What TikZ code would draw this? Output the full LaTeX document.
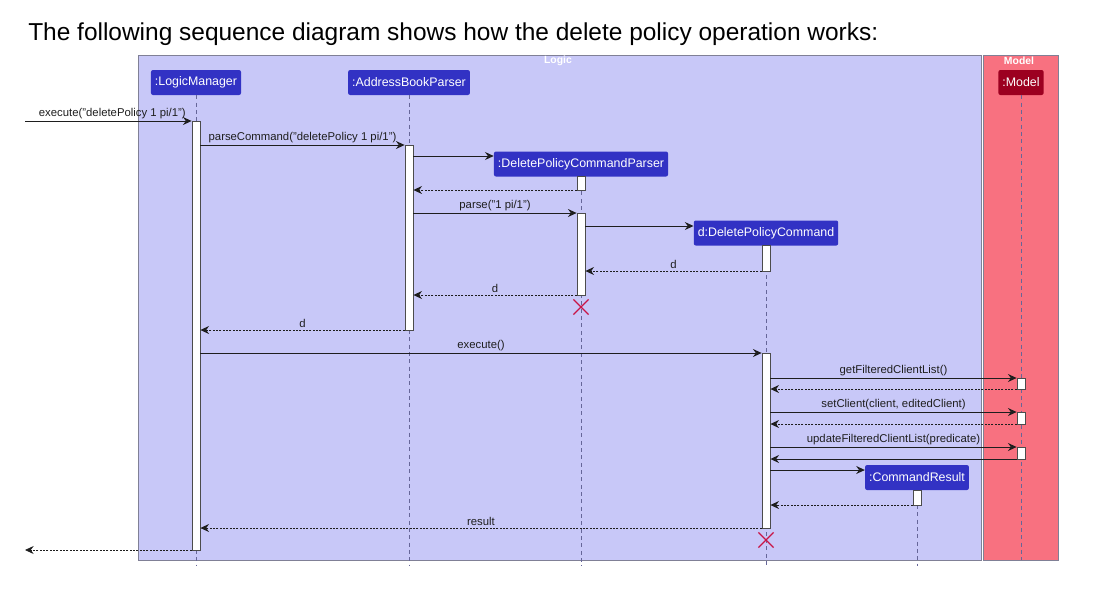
\documentclass[tikz,border=0pt]{standalone}
\usepackage{fontspec}
\setmainfont{Liberation Sans}
\usetikzlibrary{arrows.meta,shapes.misc}
\definecolor{logicbg}{RGB}{200,200,248}
\definecolor{modelbg}{RGB}{248,113,128}
\definecolor{pblue}{RGB}{50,50,196}
\definecolor{pred}{RGB}{156,0,32}
\definecolor{frame}{RGB}{128,128,150}
\definecolor{xred}{RGB}{200,20,70}
\definecolor{ink}{RGB}{30,30,30}
\tikzset{
  part/.style={fill=#1, rounded corners=1.5pt, text=white, font=\fontsize{9.3}{11}\selectfont,
    minimum height=18.75pt, inner xsep=3pt, inner ysep=0pt},
  actbar/.style={draw=gray!60!black, fill=white, line width=0.6pt, minimum width=6pt, inner sep=0pt},
  life/.style={draw=gray!80!blue, dashed, dash pattern=on 3pt off 2.5pt, line width=0.6pt},
  msg/.style={draw=ink, line width=0.7pt, -{Stealth[length=6.5pt,width=6pt,inset=2.2pt]}},
  ret/.style={msg, dash pattern=on 1.5pt off 1pt, line width=0.6pt},
  lbl/.style={above, inner sep=1.5pt, font=\fontsize{8.5}{10}\selectfont, text=ink},
  grp/.style={font=\bfseries\fontsize{7.8}{9}\selectfont, text=white, inner sep=0pt},
  killx/.style={draw=xred, cross out, line width=0.9pt, minimum size=10.5pt, inner sep=0pt},
}
\begin{document}
\begin{tikzpicture}[x=0.75pt,y=-0.75pt]
\useasboundingbox (0,0) rectangle (1096,594);
% title
\node[anchor=base west, inner sep=0pt, font=\fontsize{18.35}{21}\selectfont] (title) at (28,40)
  {The following sequence diagram shows how the delete policy operation works:};
% group boxes
\draw[frame, fill=logicbg, line width=0.6pt] (138,55) rectangle (981,560);
\draw[frame, fill=modelbg, line width=0.6pt] (983,55) rectangle (1058,560);
\node[grp] (glogic) at (558,61) {Logic};
\node[grp] (gmodel) at (1019,61) {Model};
% participants
\node[part=pblue] (lm) at (196,82.5) {:LogicManager};
\node[part=pblue] (abp) at (409,82.5) {:AddressBookParser};
\node[part=pblue] (dpcp) at (581,164) {:DeletePolicyCommandParser};
\node[part=pblue] (dpc) at (766,233) {d:DeletePolicyCommand};
\node[part=pblue] (cr) at (917,477.5) {:CommandResult};
\node[part=pred] (mdl) at (1021,82.5) {:Model};
% lifeline ends
\coordinate (lmE) at (196,566);
\coordinate (abpE) at (409,566);
\coordinate (dpcpE) at (581,566);
\coordinate (dpcE) at (766,566);
\coordinate (crE) at (917,566);
\coordinate (mdlE) at (1021,560);
\draw[life] (lm.south) -- (lmE);
\draw[life] (abp.south) -- (abpE);
\draw[life] (dpcp.south) -- (dpcpE);
\draw[life] (dpc.south) -- (dpcE);
\draw[life] (cr.south) -- (crE);
\draw[life] (mdl.south) -- (mdlE);
% activation bars
\node[actbar, minimum height=321.75pt] (lmA) at (196,335.5) {};
\node[actbar, minimum height=138.75pt] (abpA) at (409,237.5) {};
\node[actbar, minimum height=10.5pt] (dpcpA1) at (581,183) {};
\node[actbar, minimum height=61.5pt] (dpcpA2) at (581,254) {};
\node[actbar, minimum height=19.5pt] (dpcA1) at (766,258) {};
\node[actbar, minimum height=131.25pt] (dpcA2) at (766,440.5) {};
\node[actbar, minimum height=8.25pt] (mA1) at (1021,383.5) {};
\node[actbar, minimum height=9pt] (mA2) at (1021,418) {};
\node[actbar, minimum height=9pt] (mA3) at (1021,453) {};
\node[actbar, minimum height=11.25pt] (crA) at (917,497.5) {};
% message rows
\coordinate (y1) at (0,121);
\coordinate (y2) at (0,145);
\coordinate (y3) at (0,156);
\coordinate (y4) at (0,190);
\coordinate (y5) at (0,213);
\coordinate (y6) at (0,226);
\coordinate (y7) at (0,271);
\coordinate (y8) at (0,295);
\coordinate (y9) at (0,330);
\coordinate (y10) at (0,353);
\coordinate (y11) at (0,378);
\coordinate (y12) at (0,389);
\coordinate (y13) at (0,412);
\coordinate (y14) at (0,424);
\coordinate (y15) at (0,447);
\coordinate (y16) at (0,459);
\coordinate (y17) at (0,470);
\coordinate (y18) at (0,505);
\coordinate (y19) at (0,528);
\coordinate (y20) at (0,550);
\coordinate (inS) at (25,121);
\coordinate (outE) at (25,550);
% messages
\draw[msg] (inS) -- node[lbl, xshift=3pt]{execute("deletePolicy 1 pi/1")} (lmA.west |- y1);
\draw[msg] (lmA.east |- y2) -- node[lbl]{parseCommand("deletePolicy 1 pi/1")} (abpA.west |- y2);
\draw[msg] (abpA.east |- y3) -- (dpcp.west |- y3);
\draw[ret] (dpcpA1.west |- y4) -- (abpA.east |- y4);
\draw[msg] (abpA.east |- y5) -- node[lbl]{parse("1 pi/1")} (dpcpA2.west |- y5);
\draw[msg] (dpcpA2.east |- y6) -- (dpc.west |- y6);
\draw[ret] (dpcA1.west |- y7) -- node[lbl]{d} (dpcpA2.east |- y7);
\draw[ret] (dpcpA2.west |- y8) -- node[lbl]{d} (abpA.east |- y8);
\node[killx] (kill1) at (581,307) {};
\draw[ret] (abpA.west |- y9) -- node[lbl]{d} (lmA.east |- y9);
\draw[msg] (lmA.east |- y10) -- node[lbl]{execute()} (dpcA2.west |- y10);
\draw[msg] (dpcA2.east |- y11) -- node[lbl]{getFilteredClientList()} (mA1.west |- y11);
\draw[ret] (mA1.west |- y12) -- (dpcA2.east |- y12);
\draw[msg] (dpcA2.east |- y13) -- node[lbl]{setClient(client, editedClient)} (mA2.west |- y13);
\draw[ret] (mA2.west |- y14) -- (dpcA2.east |- y14);
\draw[msg] (dpcA2.east |- y15) -- node[lbl]{updateFilteredClientList(predicate)} (mA3.west |- y15);
\draw[msg] (mA3.west |- y16) -- (dpcA2.east |- y16);
\draw[msg] (dpcA2.east |- y17) -- (cr.west |- y17);
\draw[ret] (crA.west |- y18) -- (dpcA2.east |- y18);
\draw[ret] (dpcA2.west |- y19) -- node[lbl]{result} (lmA.east |- y19);
\node[killx] (kill2) at (766,540) {};
\draw[ret] (lmA.west |- y20) -- (outE);
\end{tikzpicture}
\end{document}
